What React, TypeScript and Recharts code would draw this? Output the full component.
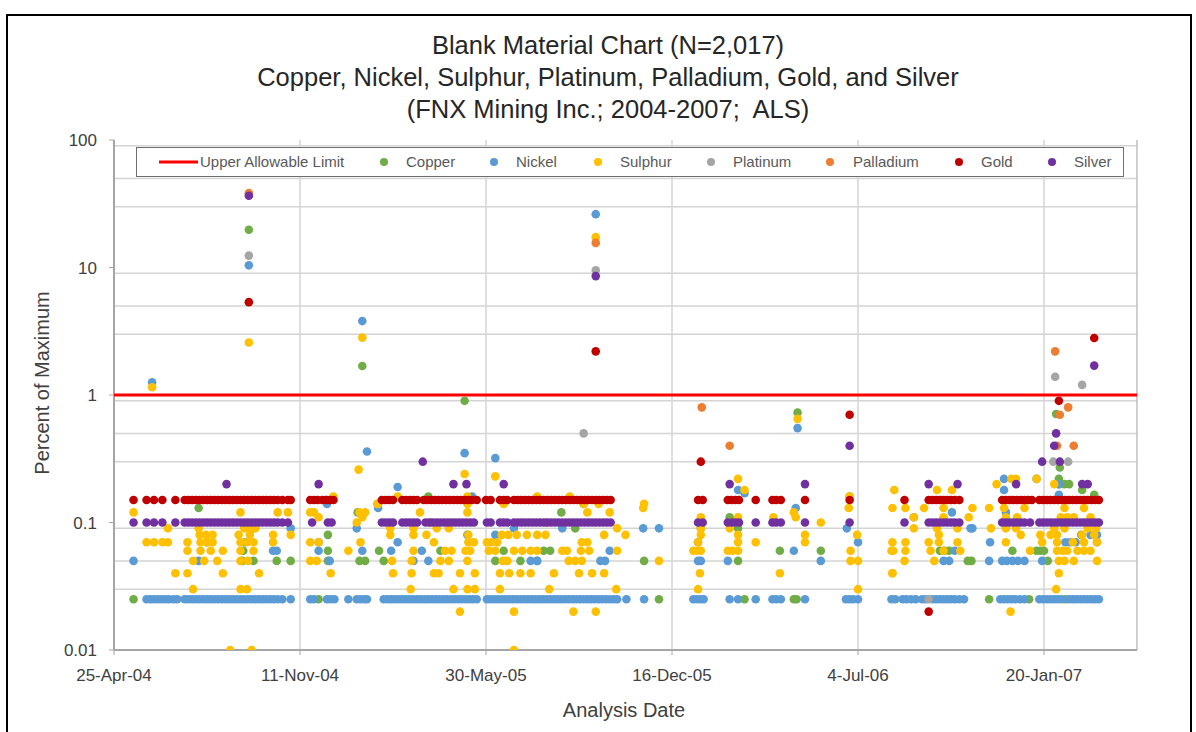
import { ScatterChart, Scatter, XAxis, YAxis, CartesianGrid, ReferenceLine } from 'recharts';

// x values are days after 25-Apr-04, y values are percent of maximum
type Pt = [number, number];

const tickLabels = ['25-Apr-04', '11-Nov-04', '30-May-05', '16-Dec-05', '4-Jul-06', '20-Jan-07'];
const xTicks = [0, 200, 400, 600, 800, 1000];
const yTicks = [0.01, 0.1, 1, 10, 100];
const minorGrid = [
  0.02, 0.03, 0.04, 0.05, 0.06, 0.07, 0.08, 0.09,
  0.2, 0.3, 0.4, 0.5, 0.6, 0.7, 0.8, 0.9,
  2, 3, 4, 5, 6, 7, 8, 9,
  20, 30, 40, 50, 60, 70, 80, 90,
];

const limitLine: Pt[] = [[0, 1], [1100, 1]];

const copper: Pt[] = [
  [145, 19.8], [267, 1.69], [377, 0.9], [735, 0.73], [1013, 0.71], [1017, 0.27],
  [21, 0.025], [220, 0.025], [586, 0.025], [678, 0.025], [731, 0.025], [734, 0.025], [941, 0.025], [984, 0.025], [1023, 0.025],
  [91, 0.13], [100, 0.07], [139, 0.06], [138, 0.05], [150, 0.05], [175, 0.05], [190, 0.05], [230, 0.08], [230, 0.06], [230, 0.05],
  [262, 0.12], [264, 0.05], [270, 0.05], [285, 0.06], [290, 0.05], [338, 0.16], [351, 0.06], [410, 0.05], [419, 0.06], [437, 0.05],
  [455, 0.05], [462, 0.06], [469, 0.06], [481, 0.12], [496, 0.09], [505, 0.14], [570, 0.05],
  [631, 0.09], [662, 0.11], [671, 0.09], [671, 0.05], [716, 0.06], [760, 0.06], [791, 0.16],
  [888, 0.06], [893, 0.06], [898, 0.06], [918, 0.05], [922, 0.05], [966, 0.06], [992, 0.06], [996, 0.06], [1000, 0.06], [1004, 0.05],
  [1040, 0.08], [1016, 0.2], [1022, 0.2], [1027, 0.2], [1041, 0.18], [1054, 0.165], [1016, 0.22],
];

// nickel detection-limit row (0.025)
const nickelFloorDays = [
  35, 39, 43, 47, 51, 55, 59, 64, 68, 76, 80, 84, 88, 92, 96, 100, 104, 108, 112, 116, 120, 124, 128, 132, 136, 140, 144, 148,
  152, 156, 160, 164, 168, 172, 176, 181, 190, 211, 215, 229, 233, 237, 252, 261, 265, 269, 272,
  290, 294, 298, 302, 306, 310, 314, 318, 322, 326, 330, 334, 338, 342, 346, 350, 354, 358, 362, 366, 370, 374, 378, 382, 386, 390,
  401, 405, 409, 413, 417, 421, 425, 429, 433, 437, 441, 445, 449, 453, 457, 461, 465, 469, 473, 477, 481, 485, 489, 493, 497,
  501, 505, 509, 513, 517, 521, 525, 529, 533, 537, 541, 551, 570,
  623, 627, 631, 634, 662, 671, 690, 708, 712, 717, 743, 787, 791, 795, 800, 836, 840,
  848, 852, 857, 862, 869, 873, 880, 884, 888, 892, 896, 900, 904, 909, 914, 953, 957, 961, 965, 969, 974, 979,
  995, 999, 1003, 1007, 1011, 1015, 1019, 1027, 1031, 1035, 1039, 1043, 1047, 1051, 1055, 1059,
];
const nickelOther: Pt[] = [
  [41, 1.26], [145, 10.4], [267, 3.8], [272, 0.36], [377, 0.35], [410, 0.32], [518, 26.2], [735, 0.55],
  [21, 0.05], [91, 0.05], [141, 0.07], [150, 0.09], [171, 0.06], [175, 0.06], [190, 0.09], [220, 0.07], [220, 0.06],
  [229, 0.15], [229, 0.14], [232, 0.05], [261, 0.09], [267, 0.06],
  [284, 0.13], [298, 0.06], [305, 0.19], [305, 0.07], [322, 0.05], [331, 0.06], [338, 0.05], [380, 0.08], [385, 0.16], [410, 0.08],
  [430, 0.09], [448, 0.05], [455, 0.05], [482, 0.09], [523, 0.05], [528, 0.05], [533, 0.06], [569, 0.09], [586, 0.09],
  [628, 0.05], [631, 0.05], [628, 0.07], [660, 0.05], [671, 0.18], [678, 0.17], [731, 0.06], [733, 0.13], [760, 0.05], [788, 0.09], [800, 0.07],
  [860, 0.11], [901, 0.12], [892, 0.05], [898, 0.05], [904, 0.06], [921, 0.09], [923, 0.09], [941, 0.05], [942, 0.07],
  [955, 0.05], [960, 0.05], [966, 0.05], [972, 0.05], [979, 0.05], [959, 0.12], [957, 0.22], [957, 0.18], [992, 0.22], [998, 0.05],
  [1016, 0.2], [1016, 0.165], [1023, 0.07], [1028, 0.07], [1034, 0.07], [1050, 0.08], [1057, 0.07], [1057, 0.08],
];

const sulphur: Pt[] = [
  [41, 1.15], [145, 2.58], [267, 2.82], [263, 0.26], [377, 0.24], [410, 0.23], [518, 17.3], [735, 0.65],
  [21, 0.12], [136, 0.12], [176, 0.12], [187, 0.12],
  [58, 0.09], [91, 0.09], [140, 0.09], [146, 0.09], [152, 0.09],
  [92, 0.08], [99, 0.08], [106, 0.08], [134, 0.08], [146, 0.08], [171, 0.08], [190, 0.08],
  [35, 0.07], [43, 0.07], [52, 0.07], [58, 0.07], [79, 0.07], [93, 0.07], [100, 0.07], [106, 0.07], [136, 0.07], [143, 0.07], [150, 0.07], [171, 0.07],
  [79, 0.06], [93, 0.06], [104, 0.06], [117, 0.06], [136, 0.06], [150, 0.06],
  [85, 0.05], [97, 0.05], [111, 0.05], [136, 0.05], [144, 0.05],
  [66, 0.04], [79, 0.04], [117, 0.04], [156, 0.04],
  [85, 0.03], [136, 0.03], [143, 0.03],
  [125, 0.01], [148, 0.01],
  [211, 0.12], [215, 0.12], [220, 0.11], [236, 0.16], [211, 0.07], [220, 0.07], [211, 0.05], [218, 0.05], [233, 0.04],
  [252, 0.06], [265, 0.07], [261, 0.1], [264, 0.12], [267, 0.11], [270, 0.12], [283, 0.14],
  [284, 0.14], [380, 0.14], [419, 0.14], [505, 0.14], [521, 0.14], [570, 0.14],
  [305, 0.16], [380, 0.16], [455, 0.16], [490, 0.16],
  [329, 0.12], [380, 0.12], [509, 0.12], [533, 0.12],
  [297, 0.09], [322, 0.09], [340, 0.1], [347, 0.09], [360, 0.09], [464, 0.1], [541, 0.09],
  [297, 0.08], [322, 0.08], [336, 0.08], [381, 0.08], [417, 0.08], [424, 0.08], [433, 0.08], [444, 0.08], [455, 0.08], [464, 0.08], [527, 0.08], [550, 0.08],
  [344, 0.07], [381, 0.07], [387, 0.07], [401, 0.07], [406, 0.07], [412, 0.07], [503, 0.07], [509, 0.07],
  [322, 0.06], [356, 0.06], [363, 0.06], [378, 0.06], [383, 0.06], [403, 0.06], [410, 0.06], [430, 0.06], [439, 0.06], [448, 0.06],
  [455, 0.06], [482, 0.06], [487, 0.06], [502, 0.06], [511, 0.06], [541, 0.06],
  [299, 0.05], [320, 0.05], [351, 0.05], [360, 0.05], [380, 0.05], [418, 0.05], [423, 0.05], [489, 0.05], [496, 0.05], [503, 0.05],
  [300, 0.04], [320, 0.04], [344, 0.04], [349, 0.04], [372, 0.04], [388, 0.04], [415, 0.04], [425, 0.04], [437, 0.04], [448, 0.04],
  [473, 0.04], [500, 0.04], [514, 0.04], [527, 0.04],
  [319, 0.03], [365, 0.03], [380, 0.03], [388, 0.03], [415, 0.03], [468, 0.03], [540, 0.03],
  [372, 0.02], [430, 0.02], [494, 0.02], [518, 0.02], [430, 0.01],
  [569, 0.13], [671, 0.22], [678, 0.18], [631, 0.11], [671, 0.11], [709, 0.11], [731, 0.12], [733, 0.11], [760, 0.1], [662, 0.1],
  [791, 0.16], [790, 0.13], [631, 0.08], [671, 0.08], [743, 0.08], [799, 0.08], [628, 0.07], [671, 0.07], [690, 0.07], [743, 0.07],
  [623, 0.06], [627, 0.06], [631, 0.06], [660, 0.06], [665, 0.06], [671, 0.06], [792, 0.06], [836, 0.06],
  [586, 0.05], [792, 0.05], [800, 0.05], [630, 0.04], [716, 0.04], [837, 0.04], [628, 0.03], [800, 0.03], [631, 0.09], [662, 0.09],
  [837, 0.13], [851, 0.13], [871, 0.13], [892, 0.13], [923, 0.13], [941, 0.13], [957, 0.13], [979, 0.13], [1022, 0.13], [1043, 0.13],
  [839, 0.18], [885, 0.18], [901, 0.18],
  [860, 0.11], [892, 0.11], [919, 0.11], [959, 0.11], [971, 0.11], [1018, 0.11], [1025, 0.11], [1032, 0.11], [1050, 0.11],
  [860, 0.09], [885, 0.09], [907, 0.09], [943, 0.09], [959, 0.09], [970, 0.09], [1011, 0.09], [1022, 0.09], [1047, 0.09], [1056, 0.09],
  [887, 0.08], [975, 0.08], [996, 0.08], [1007, 0.08], [1014, 0.08], [1041, 0.08], [1054, 0.08],
  [837, 0.07], [851, 0.07], [876, 0.07], [887, 0.07], [907, 0.07], [959, 0.07], [998, 0.07], [1014, 0.07], [1031, 0.07], [1043, 0.07], [1057, 0.07],
  [838, 0.06], [851, 0.06], [878, 0.06], [892, 0.06], [910, 0.06], [985, 0.06], [1014, 0.06], [1020, 0.06], [1025, 0.06], [1036, 0.06], [1043, 0.06], [1050, 0.06],
  [850, 0.05], [882, 0.05], [1016, 0.05], [1022, 0.05], [1032, 0.05], [1057, 0.05],
  [837, 0.04], [1016, 0.04], [1013, 0.03], [964, 0.02],
  [965, 0.22], [970, 0.22], [992, 0.22], [1011, 0.2], [949, 0.2],
];

const platinum: Pt[] = [
  [145, 12.4], [518, 9.5], [505, 0.5], [876, 0.025], [1012, 1.39], [1041, 1.2], [1010, 0.3], [1026, 0.3],
];

const palladium: Pt[] = [
  [145, 38.3], [518, 15.6], [632, 0.8], [662, 0.4], [1012, 2.2], [1026, 0.8], [1017, 0.7], [1014, 0.4], [1032, 0.4],
];

// gold reporting row (0.15)
const goldRowDays = [
  21, 35, 43, 52, 66, 76, 80, 84, 88, 92, 96, 100, 104, 108, 112, 116, 120, 124, 128, 132, 136, 140, 144, 148, 152, 156,
  160, 164, 168, 172, 176, 181, 187, 190, 211, 215, 219, 224, 228, 232, 236,
  288, 292, 296, 300, 310, 314, 318, 322, 326, 333, 337, 341, 345, 349, 353, 357, 361, 365, 369, 373, 377, 381, 385, 390,
  400, 405, 415, 419, 423, 430, 434, 438, 442, 446, 450, 454, 458, 462, 466, 470, 474, 478, 482, 486, 490, 494, 498,
  502, 506, 510, 514, 518, 522, 526, 530, 534,
  628, 633, 660, 664, 668, 672, 690, 708, 712, 717, 743, 791,
  850, 876, 880, 884, 888, 892, 896, 900, 904, 909, 955, 959, 963, 967, 971, 975, 979, 983, 987,
  995, 999, 1003, 1007, 1011, 1015, 1019, 1023, 1027, 1031, 1035, 1039, 1043, 1047, 1051, 1055, 1059,
];
const goldOther: Pt[] = [
  [145, 5.35], [518, 2.2], [631, 0.3], [791, 0.7], [1016, 0.9], [1054, 2.8], [876, 0.02],
];

// silver reporting row (0.1)
const silverRowDays = [
  21, 35, 43, 52, 66, 76, 80, 84, 88, 92, 96, 100, 104, 108, 112, 116, 120, 124, 128, 132, 136, 140, 144, 148, 152, 156,
  160, 164, 168, 172, 176, 181, 187, 213, 230, 234,
  288, 292, 296, 300, 310, 314, 318, 322, 326, 335, 339, 343, 347, 351, 355, 359, 363, 367, 371, 375, 379, 383, 387,
  401, 405, 415, 419, 423, 430, 434, 438, 442, 446, 450, 454, 458, 462, 466, 470, 474, 478, 482, 486, 490, 494, 498,
  502, 506, 510, 514, 518, 522, 526, 530, 534,
  628, 633, 660, 664, 668, 672, 690, 708, 712, 717, 743, 791,
  850, 876, 880, 884, 888, 892, 896, 900, 904, 909, 955, 959, 963, 967, 971, 975, 979, 985,
  995, 999, 1003, 1007, 1011, 1015, 1019, 1023, 1027, 1031, 1035, 1039, 1043, 1047, 1051, 1055, 1059,
];
const silverOther: Pt[] = [
  [145, 36.5], [518, 8.56], [121, 0.2], [220, 0.2], [332, 0.3], [365, 0.2], [379, 0.2], [419, 0.2], [662, 0.2], [743, 0.2],
  [791, 0.4], [876, 0.2], [907, 0.2], [970, 0.2], [998, 0.3], [1011, 0.4], [1013, 0.5], [1017, 0.3], [1041, 0.2], [1047, 0.2], [1054, 1.7],
];

const toRows = (pts: Pt[]) => pts.map(([day, value]) => ({ day, value }));
const rowAt = (days: number[], value: number) => days.map((day) => ({ day, value }));

const series = [
  { name: 'Copper', color: '#70ad47', data: toRows(copper) },
  { name: 'Nickel', color: '#5b9bd5', data: [...rowAt(nickelFloorDays, 0.025), ...toRows(nickelOther)] },
  { name: 'Sulphur', color: '#ffc000', data: toRows(sulphur) },
  { name: 'Platinum', color: '#a5a5a5', data: toRows(platinum) },
  { name: 'Palladium', color: '#ed7d31', data: toRows(palladium) },
  { name: 'Gold', color: '#c00000', data: [...rowAt(goldRowDays, 0.15), ...toRows(goldOther)] },
  { name: 'Silver', color: '#7030a0', data: [...rowAt(silverRowDays, 0.1), ...toRows(silverOther)] },
];

// legend item x offsets inside the legend box
const legendSlots = [
  { name: 'Upper Allowable Limit', color: '#ff0000', line: true, mark: 22, text: 63 },
  { name: 'Copper', color: '#70ad47', mark: 247, text: 269 },
  { name: 'Nickel', color: '#5b9bd5', mark: 357, text: 379 },
  { name: 'Sulphur', color: '#ffc000', mark: 461, text: 483 },
  { name: 'Platinum', color: '#a5a5a5', mark: 574, text: 596 },
  { name: 'Palladium', color: '#ed7d31', mark: 693, text: 716 },
  { name: 'Gold', color: '#c00000', mark: 822, text: 844 },
  { name: 'Silver', color: '#7030a0', mark: 915, text: 937 },
];

const FONT = '"Liberation Sans", Arial, sans-serif';

const dot = (color: string) => (props: any) => (
  <circle cx={props.cx} cy={props.cy} r={4.3} fill={color} />
);

const noDot = () => <g />;

export default function App() {
  return (
    <div style={{ position: 'absolute', left: 0, top: 0, width: 1196, height: 732, overflow: 'hidden', background: '#fff', fontFamily: FONT }}>
      <div style={{ position: 'absolute', left: 6, top: 14, width: 1182, height: 760, border: '2px solid #000' }} />

      <div style={{ position: 'absolute', left: 108, top: 29, width: 1000, textAlign: 'center', fontSize: 25.5, lineHeight: '32px', color: '#262626' }}>
        <div>Blank Material Chart (N=2,017)</div>
        <div>Copper, Nickel, Sulphur, Platinum, Palladium, Gold, and Silver</div>
        <div>(FNX Mining Inc.; 2004-2007;&nbsp; ALS)</div>
      </div>

      <ScatterChart width={1196} height={732} margin={{ top: 140, right: 59, bottom: 42, left: 44 }} style={{ position: 'absolute', left: 0, top: 0 }}>
        <CartesianGrid stroke="#d4d4d4" strokeWidth={1.5} horizontalValues={[...yTicks, ...minorGrid]} verticalValues={xTicks} />
        <ReferenceLine x={1100} stroke="#bfbfbf" strokeWidth={1.5} />
        <XAxis
          type="number"
          dataKey="day"
          domain={[0, 1100]}
          ticks={xTicks}
          tickFormatter={(v: number) => tickLabels[xTicks.indexOf(v)]}
          tick={{ fontSize: 17, fill: '#404040', fontFamily: FONT }}
          tickLine={{ stroke: '#a6a6a6' }}
          tickSize={5}
          tickMargin={14}
          axisLine={{ stroke: '#a6a6a6', strokeWidth: 2 }}
          height={40}
          allowDataOverflow
        />
        <YAxis
          type="number"
          dataKey="value"
          scale="log"
          domain={[0.01, 100]}
          ticks={yTicks}
          tickFormatter={(v: number) => String(v)}
          tick={{ fontSize: 17, fill: '#404040', fontFamily: FONT }}
          tickLine={{ stroke: '#a6a6a6' }}
          tickSize={5}
          tickMargin={12}
          axisLine={{ stroke: '#a6a6a6', strokeWidth: 2 }}
          width={70}
          allowDataOverflow
        />
        <Scatter
          name="Upper Allowable Limit"
          data={toRows(limitLine)}
          line={{ stroke: '#ff0000', strokeWidth: 3 }}
          shape={noDot}
          isAnimationActive={false}
        />
        {series.map((s) => (
          <Scatter key={s.name} name={s.name} data={s.data} fill={s.color} shape={dot(s.color)} isAnimationActive={false} />
        ))}
      </ScatterChart>

      <div style={{ position: 'absolute', left: 136, top: 147, width: 986, height: 28, border: '1.5px solid #6e6e6e', background: '#fff' }}>
        <svg width={986} height={28} style={{ display: 'block' }}>
          {legendSlots.map((l) => (
            <g key={l.name}>
              {l.line ? (
                <line x1={l.mark} x2={l.mark + 39} y1={14} y2={14} stroke={l.color} strokeWidth={3} />
              ) : (
                <circle cx={l.mark} cy={14} r={4} fill={l.color} />
              )}
              <text x={l.text} y={19} fontSize={15} fill="#595959" fontFamily={FONT}>{l.name}</text>
            </g>
          ))}
        </svg>
      </div>

      <div style={{ position: 'absolute', left: 42, top: 383, transform: 'translate(-50%, -50%) rotate(-90deg)', fontSize: 20, color: '#404040', whiteSpace: 'nowrap' }}>
        Percent of Maximum
      </div>
      <div style={{ position: 'absolute', left: 624, top: 710, transform: 'translate(-50%, -50%)', fontSize: 20, color: '#404040', whiteSpace: 'nowrap' }}>
        Analysis Date
      </div>
    </div>
  );
}
